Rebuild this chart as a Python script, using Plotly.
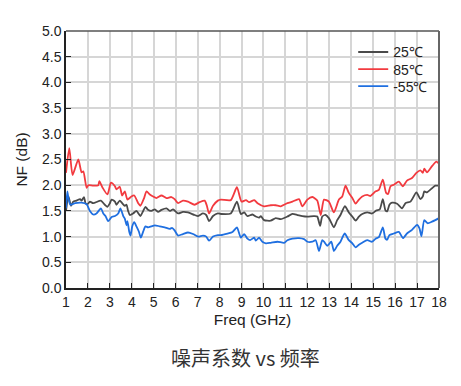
import plotly.graph_objects as go

# ---- data ----
freq_85 = [1.00, 1.15, 1.30, 1.56, 1.71, 1.79, 1.94, 2.02, 2.24, 2.47, 2.52, 2.67, 2.89, 3.05, 3.23, 3.30,
           3.45, 3.56, 3.68, 3.80, 3.98, 4.11, 4.29, 4.39, 4.56, 4.67, 4.82, 4.97, 5.12, 5.35, 5.58, 5.80,
           5.95, 6.11, 6.33, 6.56, 6.86, 7.09, 7.32, 7.42, 7.52, 7.70, 7.92, 8.06, 8.51, 8.79, 9.00, 9.20,
           9.35, 9.58, 9.73, 10.03, 10.33, 10.56, 10.79, 11.09, 11.32, 11.62, 11.77, 12.00, 12.23, 12.45,
           12.61, 12.76, 12.98, 13.21, 13.44, 13.59, 13.74, 13.89, 14.05, 14.20, 14.35, 14.50, 14.73, 14.88,
           15.11, 15.26, 15.44, 15.59, 15.68, 15.79, 15.94, 16.17, 16.35, 16.54, 16.77, 16.97, 17.15, 17.26,
           17.33, 17.45, 17.68, 17.88, 18.00]
nf_85 = [2.24, 2.72, 2.20, 2.50, 2.25, 2.27, 1.95, 2.00, 1.99, 2.00, 2.08, 1.95, 1.82, 2.05, 1.98, 1.92,
         1.97, 1.80, 1.88, 1.72, 1.78, 1.80, 1.65, 1.60, 1.75, 1.88, 1.82, 1.78, 1.75, 1.80, 1.75, 1.77,
         1.73, 1.65, 1.70, 1.68, 1.62, 1.67, 1.70, 1.60, 1.45, 1.60, 1.70, 1.72, 1.71, 1.96, 1.68, 1.71,
         1.67, 1.71, 1.65, 1.59, 1.61, 1.61, 1.59, 1.65, 1.68, 1.73, 1.59, 1.72, 1.77, 1.70,
         1.42, 1.72, 1.68, 1.47, 1.72, 1.78, 1.99, 1.85, 1.75, 1.64, 1.72, 1.78, 1.81, 1.79,
         1.88, 1.91, 2.11, 1.85, 1.83, 1.98, 2.01, 2.07, 1.98, 2.09, 2.14, 2.24, 2.29, 2.24,
         2.32, 2.25, 2.37, 2.46, 2.42]

freq_25 = [1.00, 1.11, 1.23, 1.33, 1.48, 1.64, 1.71, 1.82, 1.89, 1.98, 2.09, 2.24, 2.59, 2.77, 2.89, 3.00,
           3.08, 3.23, 3.30, 3.45, 3.56, 3.68, 3.76, 3.83, 3.91, 4.06, 4.21, 4.39, 4.52, 4.62, 4.74, 4.89,
           5.05, 5.20, 5.35, 5.58, 5.73, 5.88, 6.11, 6.33, 6.56, 6.86, 7.02, 7.24, 7.39, 7.52, 7.70, 7.92,
           8.06, 8.51, 8.79, 8.97, 9.12, 9.27, 9.50, 9.65, 9.80, 9.88, 10.03, 10.33, 10.56, 10.79, 11.09,
           11.32, 11.55, 11.77, 12.00, 12.30, 12.45, 12.58, 12.68, 12.83, 12.98, 13.21, 13.36, 13.51, 13.71,
           13.89, 14.05, 14.20, 14.35, 14.50, 14.73, 14.95, 15.15, 15.30, 15.44, 15.56, 15.64, 15.74, 15.86,
           16.09, 16.32, 16.47, 16.70, 16.97, 17.15, 17.26, 17.33, 17.45, 17.68, 17.83, 18.00]
nf_25 = [1.50, 1.78, 1.60, 1.68, 1.70, 1.73, 1.70, 1.77, 1.65, 1.63, 1.68, 1.65, 1.70, 1.62, 1.58, 1.65,
         1.72, 1.68, 1.62, 1.70, 1.65, 1.60, 1.62, 1.50, 1.42, 1.45, 1.50, 1.40, 1.50, 1.58, 1.52, 1.50,
         1.53, 1.48, 1.52, 1.55, 1.50, 1.53, 1.45, 1.48, 1.47, 1.42, 1.40, 1.45, 1.42, 1.30, 1.40, 1.45,
         1.44, 1.45, 1.68, 1.44, 1.47, 1.40, 1.43, 1.39, 1.37, 1.40, 1.32, 1.31, 1.36, 1.34, 1.39,
         1.44, 1.42, 1.40, 1.39, 1.40, 1.39, 1.21, 1.39, 1.42, 1.36, 1.18, 1.32, 1.42, 1.59,
         1.47, 1.39, 1.31, 1.39, 1.44, 1.47, 1.45, 1.51, 1.53, 1.73, 1.51, 1.49, 1.62, 1.66,
         1.64, 1.55, 1.65, 1.68, 1.86, 1.73, 1.78, 1.88, 1.86, 1.94, 1.99, 1.99]

freq_m55 = [1.00, 1.06, 1.11, 1.20, 1.41, 1.71, 1.94, 2.09, 2.24, 2.39, 2.59, 2.70, 2.80, 2.92, 3.08, 3.23,
            3.38, 3.48, 3.61, 3.68, 3.76, 3.80, 3.88, 3.94, 4.02, 4.11, 4.21, 4.32, 4.41, 4.52, 4.62, 4.74,
            4.89, 5.05, 5.27, 5.50, 5.73, 5.83, 5.95, 6.11, 6.33, 6.56, 6.79, 7.02, 7.24, 7.39, 7.52, 7.70,
            7.92, 8.06, 8.36, 8.59, 8.79, 8.97, 9.12, 9.27, 9.39, 9.58, 9.65, 9.80, 9.95, 10.11, 10.33,
            10.64, 10.94, 11.09, 11.32, 11.62, 11.85, 12.00, 12.23, 12.38, 12.53, 12.68, 12.76, 12.91, 13.09,
            13.21, 13.36, 13.51, 13.70, 13.89, 14.05, 14.20, 14.35, 14.50, 14.73, 14.95, 15.11, 15.26, 15.44,
            15.56, 15.64, 15.74, 15.94, 16.17, 16.36, 16.54, 16.77, 17.00, 17.11, 17.20, 17.33, 17.48, 17.68,
            17.83, 18.00]
nf_m55 = [1.55, 1.88, 1.75, 1.62, 1.65, 1.66, 1.63, 1.50, 1.43, 1.45, 1.55, 1.45, 1.40, 1.30, 1.38, 1.40,
          1.45, 1.55, 1.40, 1.35, 1.22, 1.30, 1.10, 1.02, 1.20, 1.28, 1.20, 1.10, 0.98, 1.10, 1.20, 1.18,
          1.20, 1.22, 1.20, 1.18, 1.15, 1.17, 1.12, 1.02, 1.05, 1.08, 1.05, 1.00, 1.02, 1.00, 0.92, 1.00,
          1.03, 1.03, 1.06, 1.09, 1.18, 0.98, 1.05, 0.96, 0.93, 0.98, 0.92, 0.98, 0.90, 0.87, 0.88,
          0.90, 0.88, 0.93, 0.96, 0.97, 0.95, 0.90, 0.90, 0.93, 0.72, 0.93, 0.90, 0.82, 0.90,
          0.72, 0.82, 0.90, 1.06, 0.93, 0.87, 0.79, 0.84, 0.88, 0.93, 0.90, 0.96, 0.99, 1.18,
          0.96, 0.94, 1.03, 1.06, 1.09, 0.97, 1.06, 1.13, 1.23, 1.16, 1.01, 1.32, 1.26, 1.29,
          1.32, 1.36]

series_names = ["25℃", "85℃", "-55℃"]
series_colors = ["#4a4a4a", "#f23a3f", "#1f6fe0"]

x_ticks = list(range(1, 19))
y_ticks = [0.0, 0.5, 1.0, 1.5, 2.0, 2.5, 3.0, 3.5, 4.0, 4.5, 5.0]

font_main = "Liberation Sans, Arial, sans-serif"

fig = go.Figure()
legend_ids = ["legend", "legend2", "legend3"]
for name, fx, fy, col, lg in zip(series_names, [freq_25, freq_85, freq_m55],
                                 [nf_25, nf_85, nf_m55], series_colors, legend_ids):
    fig.add_trace(go.Scatter(x=fx, y=fy, mode="lines", name=name, legend=lg,
                             line=dict(color=col, width=1.8, shape="spline", smoothing=0.6)))

legend_style = dict(xanchor="left", yanchor="top", bgcolor="rgba(0,0,0,0)",
                    font=dict(family=font_main, size=14, color="#222"), itemwidth=30)

fig.update_layout(
    width=453, height=378,
    margin=dict(l=56, r=22, t=23, b=98),
    paper_bgcolor="white", plot_bgcolor="white",
    font=dict(family=font_main, size=14, color="#222"),
    showlegend=True,
    legend=dict(x=0.77, y=0.979, **legend_style),
    legend2=dict(x=0.77, y=0.912, **legend_style),
    legend3=dict(x=0.77, y=0.846, **legend_style),
    xaxis=dict(range=[1, 18], tickvals=x_ticks, ticktext=[str(v) for v in x_ticks],
               showgrid=True, gridcolor="#d6d6d6", gridwidth=1.5,
               showline=True, linecolor="#222", linewidth=1.5,
               ticks="inside", ticklen=5, tickcolor="#222",
               tickfont=dict(size=14), zeroline=False,
               title=dict(text="Freq (GHz)", font=dict(size=15.5), standoff=6)),
    yaxis=dict(range=[0, 5], tickvals=y_ticks, ticktext=[f"{v:.1f}" for v in y_ticks],
               showgrid=True, gridcolor="#d6d6d6", gridwidth=1.5,
               showline=True, linecolor="#222", linewidth=1.5,
               ticks="inside", ticklen=5, tickcolor="#222",
               tickfont=dict(size=14), zeroline=False,
               title=dict(text="NF (dB)", font=dict(size=15.5), standoff=11)),
)
# top and right frame
fig.add_shape(type="line", xref="paper", yref="paper", x0=0, x1=1, y0=1, y1=1,
              line=dict(color="#555", width=1.5))
fig.add_shape(type="line", xref="paper", yref="paper", x0=1, x1=1, y0=0, y1=1,
              line=dict(color="#666", width=2))
fig.add_annotation(text="噪声系数 vs 频率", xref="paper", yref="paper", x=0.482, y=-0.272,
                   xanchor="center", yanchor="middle", showarrow=False,
                   font=dict(family="Noto Sans CJK SC, sans-serif", size=20, color="#333"))

fig.write_html("out.html")
